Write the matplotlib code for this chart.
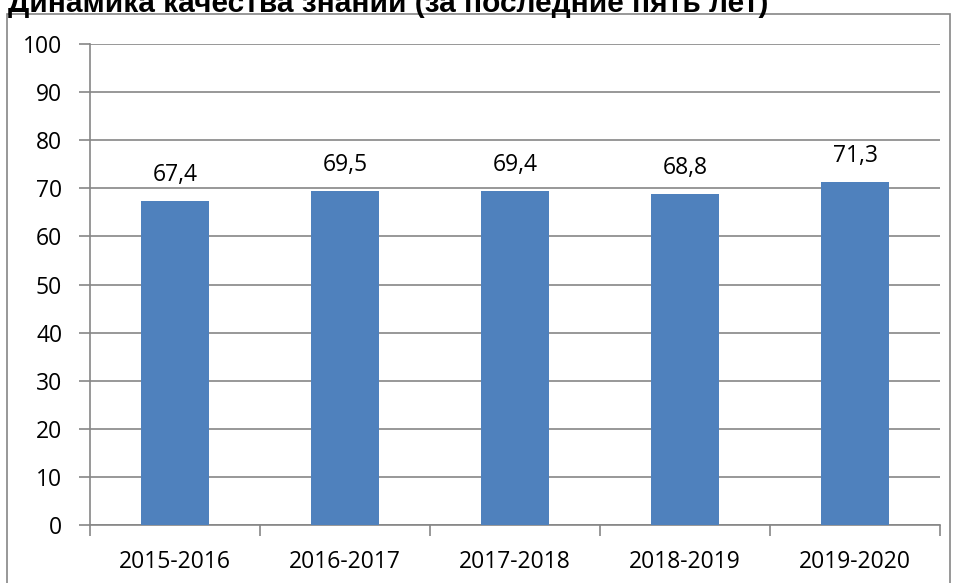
import matplotlib
matplotlib.use("Agg")
import matplotlib.pyplot as plt
from matplotlib.patches import Rectangle
import numpy as np

# данные
years = ["2015-2016", "2016-2017", "2017-2018", "2018-2019", "2019-2020"]
quality = [67.4, 69.5, 69.4, 68.8, 71.3]
title = "Динамика качества знаний (за последние пять лет)"

plt.rcParams['font.family'] = ['Open Sans', 'DejaVu Sans']

W, H = 954, 583
fig = plt.figure(figsize=(W / 100, H / 100), dpi=100)

# рамка вокруг диаграммы (низ обрезан)
fig.patches.append(Rectangle((7 / W, -0.05), (950 - 7) / W, 1.05 - 14 / H,
                             transform=fig.transFigure, fill=False,
                             edgecolor="#868686", linewidth=1.2))

fig.text(8 / W, 1 - 12 / H, title, fontsize=21.5, fontweight='bold',
         family='Liberation Sans', va='baseline', ha='left')

ax = fig.add_axes([90 / W, 1 - 525 / H, (940 - 90) / W, (525 - 44) / H])
x = np.arange(len(years))
bars = ax.bar(x, quality, width=0.4, color="#4F81BD", zorder=3)

for xi, v in zip(x, quality):
    ax.annotate(f"{v:.1f}".replace(".", ","), (xi, v), xytext=(0, 10),
                textcoords="offset points", ha="center", va="bottom", fontsize=16.5)

ax.set_xlim(-0.5, len(years) - 0.5)
ax.set_ylim(0, 100)
ax.set_yticks(range(0, 101, 10))
ax.yaxis.grid(True, color="#868686", linewidth=1.2, zorder=0)

ax.set_xticks(x)
ax.set_xticklabels(years)
ax.set_xticks(np.arange(-0.5, len(years), 1), minor=True)
ax.tick_params(axis='x', which='major', length=0, pad=18, labelsize=16.5)
ax.tick_params(axis='x', which='minor', length=8, width=1.2, color="#868686")
ax.tick_params(axis='y', length=8, width=1.2, color="#868686", pad=12, labelsize=16.5)

for s in ["top", "right"]:
    ax.spines[s].set_visible(False)
for s in ["left", "bottom"]:
    ax.spines[s].set_color("#868686")
    ax.spines[s].set_linewidth(1.2)

fig.savefig("out.png", dpi=100)
